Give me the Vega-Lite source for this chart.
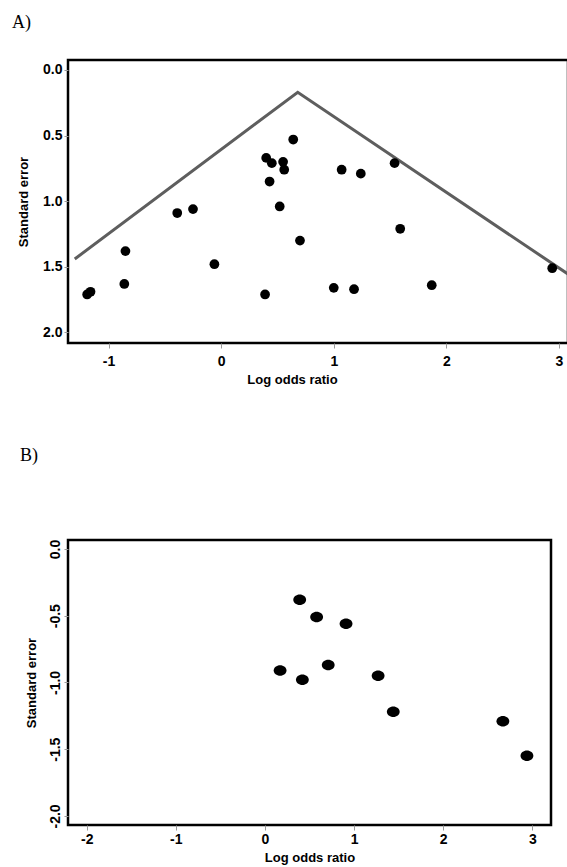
{
  "$schema": "https://vega.github.io/schema/vega-lite/v6.json",
  "padding": {"left": 10, "top": 12, "right": 0, "bottom": 0},
  "background": "white",
  "config": {
    "view": {"stroke": "#000", "strokeWidth": 2.5},
    "axis": {"labelFont": "Liberation Sans", "labelFontWeight": "bold", "labelFontSize": 14, "labelColor": "#000", "titleFont": "Liberation Sans", "titleFontWeight": "bold", "titleFontSize": 13, "titleColor": "#000", "domain": false, "grid": false, "tickColor": "#999", "tickSize": 4},
    "title": {"font": "Liberation Serif", "fontSize": 18, "fontWeight": "normal", "anchor": "start", "color": "#000", "frame": "group"}
  },
  "spacing": 57,
  "datasets": {
    "funnel": [
      {"lor": -1.30, "se": 1.44},
      {"lor": 0.68, "se": 0.17},
      {"lor": 3.08, "se": 1.555}
    ],
    "studiesA": [
      {"lor": -1.19, "se": 1.71}, {"lor": -1.16, "se": 1.69}, {"lor": -0.85, "se": 1.38}, {"lor": -0.86, "se": 1.63},
      {"lor": -0.39, "se": 1.09}, {"lor": -0.25, "se": 1.06}, {"lor": -0.06, "se": 1.48}, {"lor": 0.39, "se": 1.71},
      {"lor": 0.40, "se": 0.67}, {"lor": 0.45, "se": 0.71}, {"lor": 0.55, "se": 0.70}, {"lor": 0.56, "se": 0.76},
      {"lor": 0.43, "se": 0.85}, {"lor": 0.64, "se": 0.53}, {"lor": 0.52, "se": 1.04}, {"lor": 0.70, "se": 1.30},
      {"lor": 1.07, "se": 0.76}, {"lor": 1.24, "se": 0.79}, {"lor": 1.54, "se": 0.71}, {"lor": 1.59, "se": 1.21},
      {"lor": 1.00, "se": 1.66}, {"lor": 1.18, "se": 1.67}, {"lor": 1.87, "se": 1.64}, {"lor": 2.94, "se": 1.51}
    ],
    "studiesB": [
      {"lor": 0.39, "se": -0.38}, {"lor": 0.58, "se": -0.51}, {"lor": 0.91, "se": -0.56}, {"lor": 0.17, "se": -0.91},
      {"lor": 0.42, "se": -0.98}, {"lor": 0.71, "se": -0.87}, {"lor": 1.27, "se": -0.95}, {"lor": 1.44, "se": -1.22},
      {"lor": 2.67, "se": -1.29}, {"lor": 2.94, "se": -1.55}
    ]
  },
  "vconcat": [
    {
      "title": {"text": "A)", "dx": -56, "offset": 28},
      "width": 500,
      "height": 283,
      "layer": [
        {
          "data": {"name": "funnel"},
          "mark": {"type": "line", "color": "#5e5e5e", "strokeWidth": 3, "clip": true},
          "encoding": {
            "x": {"field": "lor", "type": "quantitative", "scale": {"domain": [-1.36, 3.08], "nice": false, "zero": false},
                  "axis": {"title": "Log odds ratio", "values": [-1, 0, 1, 2, 3], "labelExpr": "(datum.value < 0 ? '-' : '') + format(abs(datum.value), 'd')", "tickSize": 5, "labelPadding": 6, "titlePadding": 5, "titleX": 224}},
            "y": {"field": "se", "type": "quantitative", "scale": {"domain": [-0.076, 2.08], "nice": false, "zero": false, "reverse": true},
                  "axis": {"title": "Standard error", "values": [0, 0.5, 1, 1.5, 2], "labelExpr": "format(datum.value, '.1f')", "tickSize": 4, "labelPadding": 2, "titlePadding": 12}}
          }
        },
        {
          "data": {"name": "studiesA"},
          "mark": {"type": "circle", "color": "#000", "opacity": 1, "size": 95},
          "encoding": {
            "x": {"field": "lor", "type": "quantitative"},
            "y": {"field": "se", "type": "quantitative"}
          }
        }
      ]
    },
    {
      "title": {"text": "B)", "dx": -48, "offset": 74},
      "width": 483,
      "height": 285,
      "data": {"name": "studiesB"},
      "mark": {"type": "point", "filled": true, "color": "#000", "opacity": 1, "size": 165, "shape": "M-1,0A1,0.82,0,1,0,1,0A1,0.82,0,1,0,-1,0Z"},
      "encoding": {
        "x": {"field": "lor", "type": "quantitative", "scale": {"domain": [-2.21, 3.21], "nice": false, "zero": false},
              "axis": {"title": "Log odds ratio", "values": [-2, -1, 0, 1, 2, 3], "labelExpr": "(datum.value < 0 ? '-' : '') + format(abs(datum.value), 'd')", "tickSize": 5, "labelPadding": 2, "titlePadding": 5}},
        "y": {"field": "se", "type": "quantitative", "scale": {"domain": [-2.068, 0.067], "nice": false, "zero": false},
              "axis": {"title": "Standard error", "values": [0, -0.5, -1, -1.5, -2], "labelExpr": "(datum.value < 0 ? '-' : '') + format(abs(datum.value), '.1f')", "labelAngle": -90, "labelAlign": "center", "labelBaseline": "bottom", "tickSize": 4, "labelPadding": 2, "titlePadding": 10}}
      }
    }
  ]
}
